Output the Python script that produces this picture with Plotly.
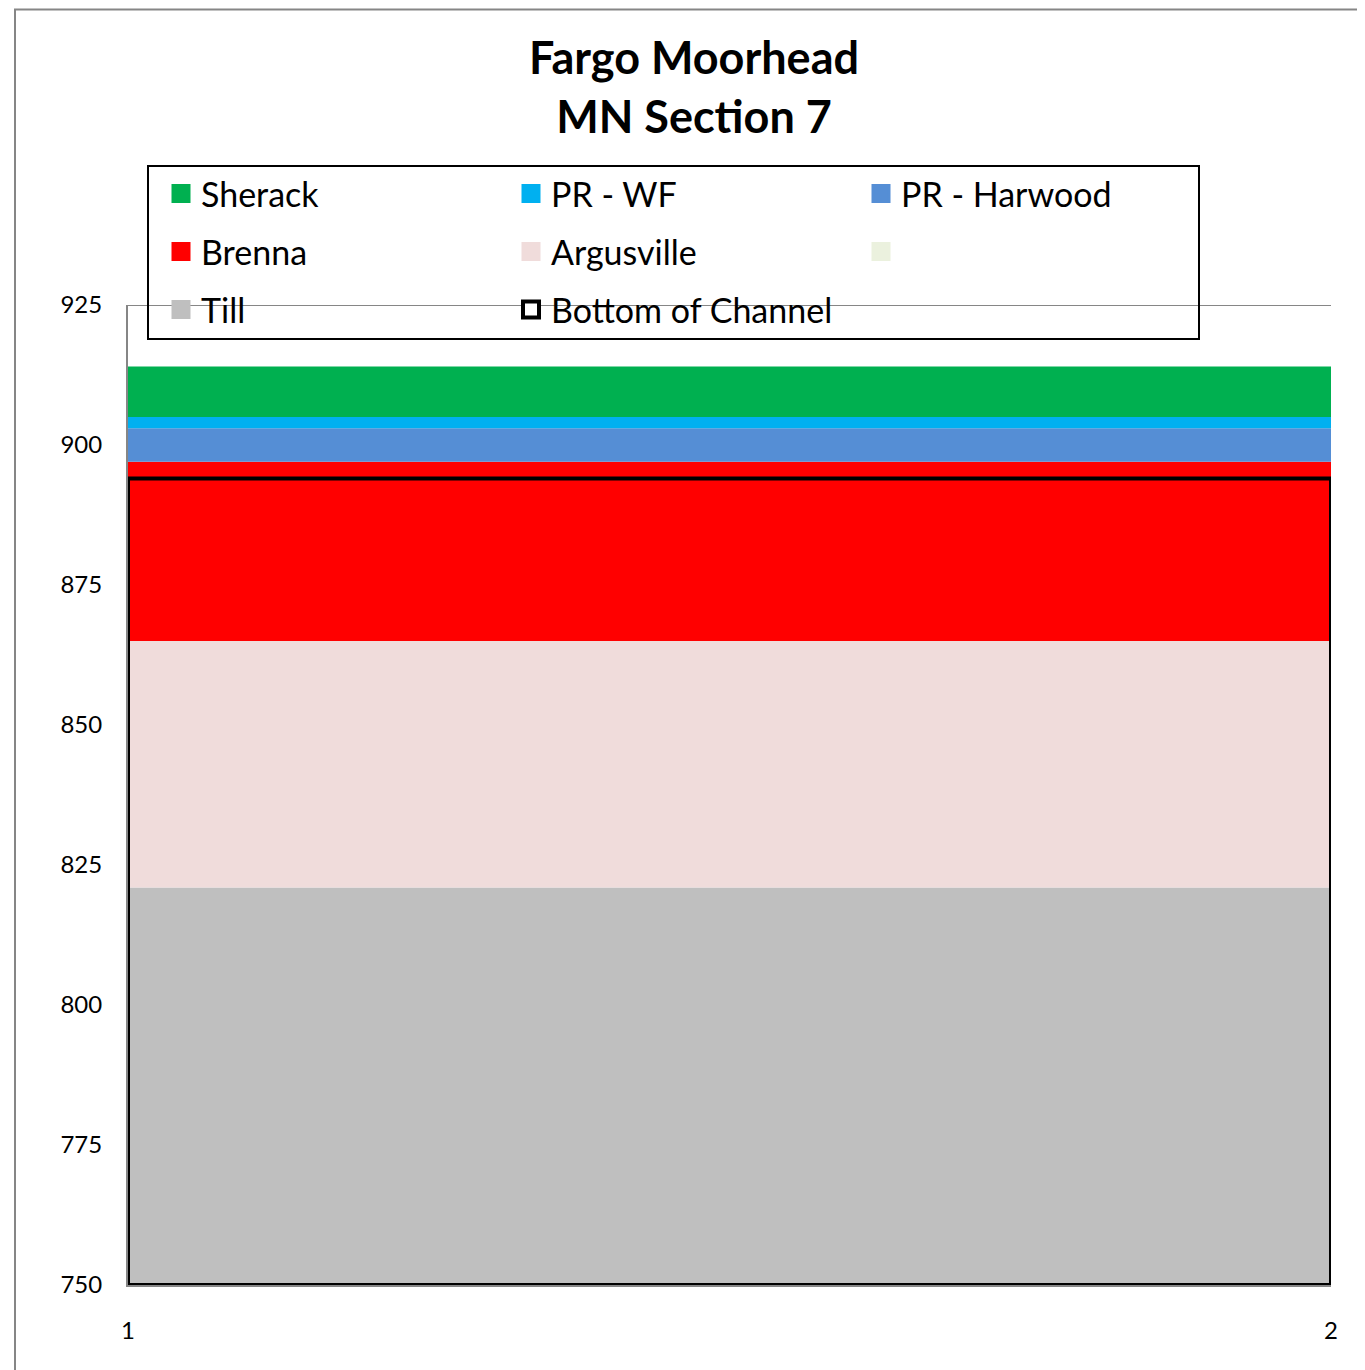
import plotly.graph_objects as go

# ---- data ----
x_vals = [1, 2]
till = [821, 821]
argusville = [44, 44]
brenna = [32, 32]
pr_harwood = [6, 6]
pr_wf = [2, 2]
sherack = [9, 9]
blank = [0, 0]
channel_bottom = [894, 894]
y_ticks = [750, 775, 800, 825, 850, 875, 900, 925]
x_ticks = [1, 2]

layer_names = ["Till", "Argusville", "Brenna", "PR - Harwood", "PR - WF", "Sherack", " "]
layer_values = [till, argusville, brenna, pr_harwood, pr_wf, sherack, blank]
layer_colors = ["#BFBFBF", "#F0DCDB", "#FF0000", "#558ED5", "#00B0F0", "#00B050", "#EBF1DE"]

Y_MIN, Y_MAX = 750, 925
FONT = "Lato"

OFF = 8  # page body margin
W, H = 1365 - OFF, 1370 - OFF
L = 128 - OFF
T = 305 - OFF
R = W - (1331 - OFF)
B = H - (1285 - OFF)
PW, PH = W - L - R, H - T - B


def px_x(p):  # page pixel -> paper x
    return (p - OFF - L) / PW


def px_y(p):  # page pixel -> paper y
    return (H - B - (p - OFF)) / PH


fig = go.Figure()

# stacked layers
for name, vals, col in zip(layer_names, layer_values, layer_colors):
    fig.add_trace(go.Scatter(
        x=x_vals, y=vals, name=name, stackgroup="geo", mode="lines",
        line=dict(width=0, color=col), fillcolor=col, showlegend=False,
        hoverinfo="skip"))

# bottom of channel outline
cx = [x_vals[0], x_vals[0], x_vals[1], x_vals[1], x_vals[0]]
cy = [Y_MIN, channel_bottom[0], channel_bottom[1], Y_MIN, Y_MIN]
fig.add_trace(go.Scatter(x=cx, y=cy, mode="lines", line=dict(color="black", width=4),
                         showlegend=False, hoverinfo="skip", cliponaxis=False))

# legend entries
legend_rows = [
    ("legend", [("Sherack", "#00B050"), ("PR - WF", "#00B0F0"), ("PR - Harwood", "#558ED5")]),
    ("legend2", [("Brenna", "#FF0000"), ("Argusville", "#F0DCDB"), (" ", "#EBF1DE")]),
    ("legend3", [("Till", "#BFBFBF"), ("Bottom of Channel", None)]),
]
for lg, items in legend_rows:
    for nm, col in items:
        if col is None:
            mk = dict(symbol="square", size=16, color="white", line=dict(color="black", width=4))
        else:
            mk = dict(symbol="square", size=16, color=col, line=dict(color=col, width=3))
        fig.add_trace(go.Scatter(x=[None], y=[None], mode="markers", name=nm, marker=mk,
                                 legend=lg, showlegend=True))

row_y = [194, 252, 310]
leg_common = dict(orientation="h", xanchor="left", yanchor="middle", traceorder="normal",
                  entrywidth=305, entrywidthmode="pixels",
                  font=dict(family=FONT, size=34, color="black"),
                  bgcolor="rgba(0,0,0,0)", borderwidth=0, itemclick=False)
leg_x = px_x(161)

fig.update_layout(
    width=W, height=H,
    margin=dict(l=L, r=R, t=T, b=B),
    paper_bgcolor="white", plot_bgcolor="white",
    font=dict(family=FONT, color="black"),
    title=dict(text="<b>Fargo Moorhead</b><br><b>MN Section 7</b>",
               x=(694 - OFF) / W, xanchor="center", y=1 - (86 - OFF - 12) / H, yanchor="middle",
               font=dict(family=FONT, size=45, color="black")),
    legend=dict(x=leg_x, y=px_y(row_y[0]), **leg_common),
    legend2=dict(x=leg_x, y=px_y(row_y[1]), **leg_common),
    legend3=dict(x=leg_x, y=px_y(row_y[2]), **leg_common),
    xaxis=dict(range=[x_vals[0], x_vals[1]], tickvals=x_ticks, showgrid=False,
               zeroline=False, showline=True, linecolor="#868686", linewidth=2,
               ticks="", ticklabelstandoff=23,
               tickfont=dict(family=FONT, size=24, color="black")),
    yaxis=dict(range=[Y_MIN, Y_MAX], tickvals=y_ticks, showgrid=True,
               gridcolor="#868686", gridwidth=2, zeroline=False, showline=True,
               linecolor="#868686", linewidth=2, ticks="", ticklabelstandoff=19,
               tickfont=dict(family=FONT, size=24, color="black")),
    shapes=[
        dict(type="line", xref="paper", yref="y", x0=0, x1=1, y0=Y_MAX, y1=Y_MAX,
             line=dict(color="#868686", width=2), layer="below"),
        dict(type="rect", xref="paper", yref="paper",
             x0=px_x(148), x1=px_x(1199), y0=px_y(339), y1=px_y(166),
             line=dict(color="black", width=2), fillcolor="rgba(0,0,0,0)", layer="above"),
        dict(type="rect", xref="paper", yref="paper",
             x0=px_x(15), x1=px_x(1400), y0=px_y(1400), y1=px_y(9.5),
             line=dict(color="#868686", width=2), fillcolor="rgba(0,0,0,0)", layer="above"),
    ],
)

fig.write_html("out.html")
